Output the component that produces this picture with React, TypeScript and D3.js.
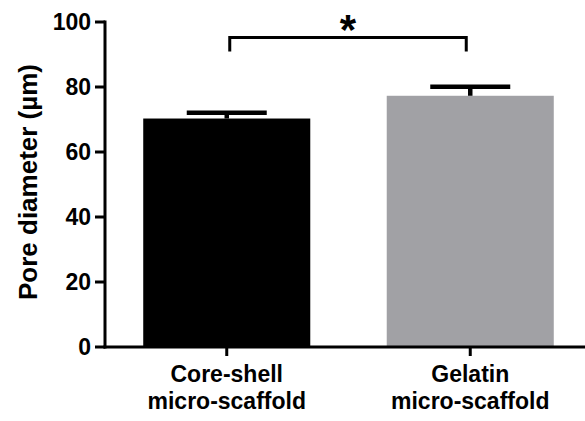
import React, { useEffect, useRef } from "react";
import * as d3 from "d3";

const categories = ["Core-shell\nmicro-scaffold", "Gelatin\nmicro-scaffold"];
const means = [70.3, 77.3];
const errors = [1.8, 2.8];
const barColors = ["#000000", "#A1A1A5"];
const yTicks = [0, 20, 40, 60, 80, 100];
const yTitle = "Pore diameter (µm)";
const sigLevel = 95.2;
const sigLegBottom = 90.9;
const sigLabel = "*";

const W = 585;
const H = 421;
const FONT = "'Liberation Sans', Arial, sans-serif";

const App = () => {
    const ref = useRef<SVGSVGElement | null>(null);

    useEffect(() => {
        const svg = d3.select(ref.current);
        svg.selectAll("*").remove();

        const y = d3.scaleLinear().domain([0, 100]).range([347, 22]);
        const x = d3.scaleBand()
            .domain(categories)
            .range([105, 592])
            .paddingInner(0.314)
            .paddingOuter(0.157);
        const cx = (c: string) => (x(c) as number) + x.bandwidth() / 2;

        // bars
        svg.selectAll(".bar")
            .data(categories)
            .enter()
            .append("rect")
            .attr("x", d => x(d) as number)
            .attr("width", x.bandwidth())
            .attr("y", (d, i) => y(means[i]))
            .attr("height", (d, i) => y(0) - y(means[i]))
            .attr("fill", (d, i) => barColors[i]);

        // error bars (upper only)
        const err = svg.append("g").attr("stroke", "#000").attr("stroke-width", 4.5);
        categories.forEach((c, i) => {
            err.append("line")
                .attr("x1", cx(c)).attr("x2", cx(c))
                .attr("y1", y(means[i])).attr("y2", y(means[i] + errors[i]));
            err.append("line")
                .attr("x1", cx(c) - 40).attr("x2", cx(c) + 40)
                .attr("y1", y(means[i] + errors[i])).attr("y2", y(means[i] + errors[i]));
        });

        // y axis
        const yAxis = svg.append("g").attr("font-family", FONT);
        yAxis.append("line")
            .attr("x1", 105).attr("x2", 105)
            .attr("y1", y(100) - 1.5).attr("y2", y(0) + 1.5)
            .attr("stroke", "#000").attr("stroke-width", 3);
        yTicks.forEach(t => {
            yAxis.append("line")
                .attr("x1", 95).attr("x2", 105)
                .attr("y1", y(t)).attr("y2", y(t))
                .attr("stroke", "#000").attr("stroke-width", 3);
            yAxis.append("text")
                .attr("x", 91).attr("y", y(t))
                .attr("dy", "0.35em")
                .attr("text-anchor", "end")
                .attr("font-size", 23)
                .attr("font-weight", "bold")
                .text(t);
        });
        yAxis.append("text")
            .attr("transform", `translate(37,182) rotate(-90)`)
            .attr("text-anchor", "middle")
            .attr("font-size", 26)
            .attr("font-weight", "bold")
            .text(yTitle);

        // x axis
        const xAxis = svg.append("g").attr("font-family", FONT);
        xAxis.append("line")
            .attr("x1", 103.5).attr("x2", W)
            .attr("y1", y(0)).attr("y2", y(0))
            .attr("stroke", "#000").attr("stroke-width", 3);
        categories.forEach(c => {
            xAxis.append("line")
                .attr("x1", cx(c)).attr("x2", cx(c))
                .attr("y1", y(0)).attr("y2", y(0) + 9)
                .attr("stroke", "#000").attr("stroke-width", 3);
            const lines = c.split("\n");
            const t = xAxis.append("text")
                .attr("text-anchor", "middle")
                .attr("font-size", 23)
                .attr("font-weight", "bold");
            lines.forEach((l, k) => {
                t.append("tspan")
                    .attr("x", cx(c))
                    .attr("y", 382 + k * 27)
                    .text(l);
            });
        });

        // significance bracket
        const x1 = cx(categories[0]) + 3;
        const x2 = cx(categories[1]) - 4;
        svg.append("path")
            .attr("d", `M${x1},${y(sigLegBottom)} V${y(sigLevel)} H${x2} V${y(sigLegBottom)}`)
            .attr("fill", "none")
            .attr("stroke", "#000")
            .attr("stroke-width", 3);
        svg.append("text")
            .attr("x", (x1 + x2) / 2)
            .attr("y", 44)
            .attr("text-anchor", "middle")
            .attr("font-family", FONT)
            .attr("font-size", 42)
            .attr("font-weight", "bold")
            .text(sigLabel);
    }, []);

    return (
        <div style={{ position: "absolute", left: 0, top: 0, background: "#fff" }}>
            <svg ref={ref} width={W} height={H} style={{ display: "block" }} />
        </div>
    );
};

export default App;
